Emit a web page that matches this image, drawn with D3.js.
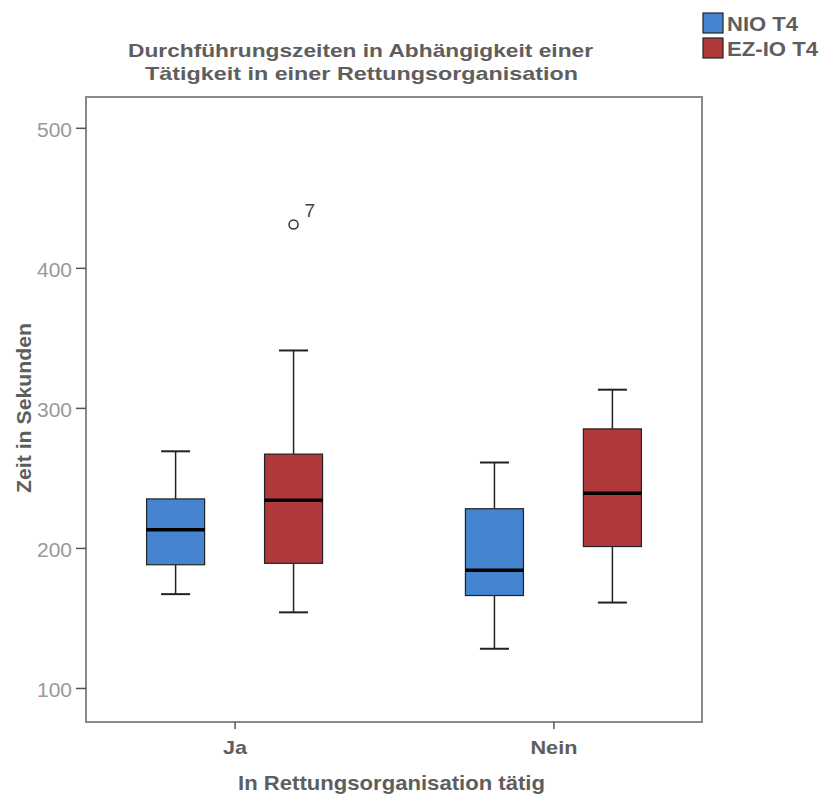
<!DOCTYPE html>
<html>
<head>
<meta charset="utf-8">
<script src="https://cdn.jsdelivr.net/npm/d3@7"></script>
<style>
  body { margin: 0; background: #fff; }
  text { font-family: "Liberation Sans", Arial, sans-serif; }
</style>
</head>
<body>
<script>
// Size of the page
const width = 819, height = 794;

// Data
const groups = ["Ja", "Nein"];
const series = ["NIO T4", "EZ-IO T4"];
const colors = ["#4584cf", "#b0393b"];
// [min whisker, Q1, median, Q3, max whisker]
const nioStats = [[167, 188, 213, 235, 269], [128, 166, 184, 228, 261]];
const ezioStats = [[154, 189, 234, 267, 341], [161, 201, 239, 285, 313]];
// outliers: group, series, value, label
const outliers = [{ group: "Ja", series: "EZ-IO T4", value: 431, label: "7" }];
const yTicks = [100, 200, 300, 400, 500];

const margin = { left: 86, right: 117, top: 97, bottom: 72 };
const textGrey = "#5e5e5e";

// stretch text a bit wider, like in the picture
function stretch(sel, len) {
    sel.attr("textLength", len).attr("lengthAdjust", "spacingAndGlyphs");
}

const svg = d3.select("body")
    .append("svg")
    .attr("width", width)
    .attr("height", height);

const x = d3.scalePoint()
    .domain(groups)
    .range([margin.left, width - margin.right])
    .padding(0.466);

const xSub = d3.scaleBand()
    .domain(series)
    .range([-88, 88])
    .paddingInner(0.508);

const y = d3.scaleLinear()
    .domain([75.7, 522])
    .range([height - margin.bottom, margin.top]);

// Frame
svg.append("rect")
    .attr("x", margin.left)
    .attr("y", margin.top)
    .attr("width", width - margin.left - margin.right)
    .attr("height", height - margin.top - margin.bottom)
    .attr("fill", "none")
    .attr("stroke", "#8a8a8a")
    .attr("stroke-width", 2);

// Y axis
const yAxis = svg.append("g")
    .attr("transform", `translate(${margin.left},0)`)
    .call(d3.axisLeft(y).tickValues(yTicks).tickSize(10).tickPadding(4));
yAxis.select(".domain").remove();
yAxis.selectAll(".tick line").attr("stroke", "#555").attr("stroke-width", 1.5);
yAxis.selectAll(".tick text")
    .attr("fill", "#9a9a9a")
    .attr("font-size", 20)
    .attr("dy", "0.42em")
    .style("font-family", "Liberation Sans, Arial, sans-serif")
    .call(stretch, 35);

// X axis
const xAxis = svg.append("g")
    .attr("transform", `translate(0,${height - margin.bottom})`)
    .call(d3.axisBottom(x).tickSize(7).tickPadding(4));
xAxis.select(".domain").remove();
xAxis.selectAll(".tick line").attr("stroke", "#555").attr("stroke-width", 1.5);
xAxis.selectAll(".tick text")
    .attr("fill", textGrey)
    .attr("font-size", 18.5)
    .attr("font-weight", "bold")
    .attr("dy", "1.15em")
    .style("font-family", "Liberation Sans, Arial, sans-serif")
    .each(function (d) { d3.select(this).call(stretch, d === "Ja" ? 24 : 47); });

// Boxes
const boxes = [];
groups.forEach((g, i) => {
    boxes.push({ group: g, series: series[0], color: colors[0], s: nioStats[i] });
    boxes.push({ group: g, series: series[1], color: colors[1], s: ezioStats[i] });
});

const box = svg.selectAll(".box")
    .data(boxes)
    .enter()
    .append("g")
    .attr("class", "box")
    .attr("transform", d => `translate(${x(d.group) + xSub(d.series)},0)`);

const bw = xSub.bandwidth();

// whisker lines
box.append("line")
    .attr("x1", bw / 2).attr("x2", bw / 2)
    .attr("y1", d => y(d.s[0])).attr("y2", d => y(d.s[1]))
    .attr("stroke", "#222").attr("stroke-width", 1.5);
box.append("line")
    .attr("x1", bw / 2).attr("x2", bw / 2)
    .attr("y1", d => y(d.s[3])).attr("y2", d => y(d.s[4]))
    .attr("stroke", "#222").attr("stroke-width", 1.5);
// caps
box.selectAll(".cap")
    .data(d => [d.s[0], d.s[4]])
    .enter()
    .append("line")
    .attr("x1", bw / 4).attr("x2", bw * 3 / 4)
    .attr("y1", v => y(v)).attr("y2", v => y(v))
    .attr("stroke", "#222").attr("stroke-width", 2);

box.append("rect")
    .attr("x", 0)
    .attr("width", bw)
    .attr("y", d => y(d.s[3]))
    .attr("height", d => y(d.s[1]) - y(d.s[3]))
    .attr("fill", d => d.color)
    .attr("stroke", "#222")
    .attr("stroke-width", 1.2);

box.append("line")
    .attr("x1", 0).attr("x2", bw)
    .attr("y1", d => y(d.s[2])).attr("y2", d => y(d.s[2]))
    .attr("stroke", "#000").attr("stroke-width", 3.5);

// Outliers
const out = svg.selectAll(".outlier")
    .data(outliers)
    .enter()
    .append("g")
    .attr("class", "outlier");
out.append("circle")
    .attr("cx", d => x(d.group) + xSub(d.series) + bw / 2)
    .attr("cy", d => y(d.value))
    .attr("r", 4.5)
    .attr("fill", "none")
    .attr("stroke", "#333")
    .attr("stroke-width", 1.5);
out.append("text")
    .attr("x", d => x(d.group) + xSub(d.series) + bw / 2 + 11)
    .attr("y", d => y(d.value) - 7)
    .attr("font-size", 19)
    .attr("fill", "#444")
    .text(d => d.label);

// Title
svg.append("text")
    .attr("x", 128).attr("y", 57)
    .attr("font-size", 19).attr("font-weight", "bold").attr("fill", textGrey)
    .text("Durchführungszeiten in Abhängigkeit einer")
    .call(stretch, 465);
svg.append("text")
    .attr("x", 145).attr("y", 80)
    .attr("font-size", 19).attr("font-weight", "bold").attr("fill", textGrey)
    .text("Tätigkeit in einer Rettungsorganisation")
    .call(stretch, 433);

// Axis titles
svg.append("text")
    .attr("transform", "translate(31,493) rotate(-90)")
    .attr("font-size", 20).attr("font-weight", "bold").attr("fill", textGrey)
    .text("Zeit in Sekunden")
    .call(stretch, 170);
svg.append("text")
    .attr("x", 238).attr("y", 790)
    .attr("font-size", 21).attr("font-weight", "bold").attr("fill", textGrey)
    .text("In Rettungsorganisation tätig")
    .call(stretch, 307);

// Legend
const legendLen = [71, 91];
const legend = svg.selectAll(".legend")
    .data(series)
    .enter()
    .append("g")
    .attr("class", "legend")
    .attr("transform", (d, i) => `translate(703,${13 + i * 25})`);
legend.append("rect")
    .attr("width", 20).attr("height", 20)
    .attr("fill", (d, i) => colors[i])
    .attr("stroke", "#222").attr("stroke-width", 1.2);
legend.append("text")
    .attr("x", 24).attr("y", 18)
    .attr("font-size", 20).attr("font-weight", "bold").attr("fill", textGrey)
    .text(d => d)
    .each(function (d, i) { d3.select(this).call(stretch, legendLen[i]); });
</script>
</body>
</html>
